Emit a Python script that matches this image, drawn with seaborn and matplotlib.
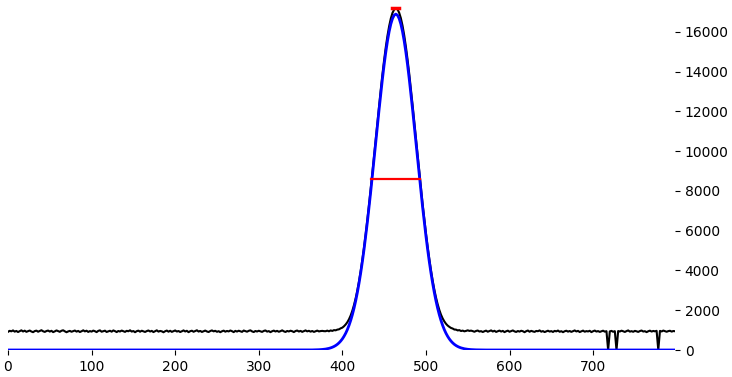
import numpy as np
import matplotlib
matplotlib.use("Agg")
import matplotlib.pyplot as plt
import seaborn as sns

# sample grid (step 2)
x_grid = np.arange(0, 800, 2)

# measured signal: left baseline (x=0..378)
signal_left = [
    915, 965, 940, 985, 925, 958, 905, 950, 990, 932,
    972, 915, 948, 980, 930, 898, 952, 975, 920, 960,
    995, 942, 910, 955, 978, 928, 965, 900, 938, 985,
    950, 915, 968, 992, 940, 895, 935, 962, 918, 948,
    980, 926, 960, 905, 943, 990, 937, 970, 910, 952,
    925, 976, 946, 900, 962, 988, 920, 945, 972, 908,
    940, 968, 922, 984, 950, 902, 958, 930, 978, 944,
    912, 965, 942, 992, 928, 955, 895, 948, 975, 920,
    970, 938, 908, 952, 982, 930, 962, 902, 946, 990,
    925, 958, 940, 893, 944, 978, 921, 967, 913, 950,
    983, 929, 956, 905, 942, 986, 933, 966, 898, 946,
    970, 918, 952, 992, 928, 960, 909, 944, 978, 932,
    905, 955, 985, 938, 966, 916, 948, 896, 942, 975,
    923, 958, 934, 982, 947, 900, 962, 928, 970, 944,
    913, 979, 950, 921, 964, 990, 936, 904, 957, 930,
    968, 941, 911, 960, 984, 925, 952, 898, 944, 976,
    931, 964, 917, 948, 988, 940, 907, 958, 933, 970,
    945, 902, 955, 980, 929, 962, 913, 950, 986, 937,
    966, 923, 957, 910, 946, 976, 935, 952, 962, 948,
]
# peak region (x=380..548)
signal_peak = [
    945, 975, 940, 985, 960, 1000, 990, 1025, 1040, 1090,
    1125, 1195, 1285, 1400, 1550, 1740, 1980, 2270, 2610, 3010,
    3470, 3990, 4560, 5180, 5850, 6570, 7330, 8120, 8940, 9780,
    10630, 11480, 12310, 13110, 13880, 14590, 15240, 15810, 16290, 16680,
    16960, 17130, 17200, 17140, 16970, 16700, 16320, 15840, 15270, 14620,
    13910, 13140, 12340, 11510, 10660, 9810, 8970, 8150, 7360, 6610,
    5890, 5220, 4600, 4030, 3510, 3050, 2650, 2310, 2020, 1780,
    1590, 1440, 1320, 1230, 1165, 1110, 1080, 1030, 1025, 985,
    1000, 955, 975, 940, 960,
]
# right baseline (x=550..798), with dropouts at 718, 728, 778
signal_right = [
    990, 960, 975, 950, 918, 958, 980, 930, 948, 905,
    944, 975, 920, 955, 986, 932, 966, 910, 946, 978,
    928, 962, 900, 943, 974, 918, 950, 984, 936, 908,
    956, 925, 968, 944, 896, 948, 980, 918, 963, 934,
    912, 958, 945, 986, 922, 952, 902, 940, 972, 928,
    950, 908, 962, 938, 978, 918, 946, 897, 944, 970,
    924, 956, 912, 948, 984, 933, 962, 904, 942, 975,
    920, 950, 934, 966, 900, 945, 978, 928, 952, 910,
    944, 972, 922, 948, 0, 935, 962, 916, 950, 0,
    955, 930, 972, 943, 908, 952, 985, 924, 948, 916,
    962, 940, 910, 954, 980, 930, 946, 900, 943, 974,
    928, 958, 940, 965, 0, 962, 932, 978, 945, 918,
    950, 968, 926, 955, 944,
]
signal = np.array(signal_left + signal_peak + signal_right, dtype=float)

# Gaussian fit curve values (x=360..568), zero elsewhere
fit_core = [
    2, 3, 4, 6, 8, 11, 15, 20, 27, 36,
    47, 62, 82, 107, 138, 177, 225, 285, 359, 449,
    557, 688, 842, 1025, 1240, 1489, 1777, 2106, 2479, 2900,
    3369, 3888, 4458, 5076, 5742, 6452, 7202, 7985, 8796, 9623,
    10459, 11293, 12112, 12902, 13654, 14354, 14990, 15549, 16023, 16401,
    16676, 16844, 16900, 16844, 16676, 16401, 16023, 15549, 14990, 14354,
    13654, 12902, 12112, 11293, 10459, 9623, 8796, 7985, 7202, 6452,
    5742, 5076, 4458, 3888, 3369, 2900, 2479, 2106, 1777, 1489,
    1240, 1025, 842, 688, 557, 449, 359, 285, 225, 177,
    138, 107, 82, 62, 47, 36, 27, 20, 15, 11,
    8, 6, 4, 3, 2,
]
fit = np.array([0] * 180 + fit_core + [0] * 115, dtype=float)

# FWHM marker and peak marker
fwhm_x = [434, 493]
fwhm_y = [8600, 8600]
peak_x = [460, 468]
peak_y = [17200, 17200]

xticks = [0, 100, 200, 300, 400, 500, 600, 700]
yticks = [0, 2000, 4000, 6000, 8000, 10000, 12000, 14000, 16000]

plt.rcParams['font.family'] = ['DejaVu Sans']
plt.rcParams['font.size'] = 10

fig = plt.figure(figsize=(7.32, 3.77), dpi=100)
ax = fig.add_axes([8 / 732, 27 / 377, 667 / 732, 350 / 377])

sns.lineplot(x=x_grid, y=signal, ax=ax, color='black', linewidth=1.5,
             estimator=None, sort=False, zorder=2)
sns.lineplot(x=x_grid, y=fit, ax=ax, color='blue', linewidth=2,
             estimator=None, sort=False, zorder=3)
sns.lineplot(x=fwhm_x, y=fwhm_y, ax=ax, color='red', linewidth=1.6,
             estimator=None, sort=False, zorder=4)
sns.lineplot(x=peak_x, y=peak_y, ax=ax, color='red', linewidth=2.5,
             estimator=None, sort=False, zorder=4)

ax.set_xlim(0, 798)
ax.set_ylim(0, 17610)
ax.set_xticks(xticks)
ax.set_yticks(yticks)
ax.yaxis.tick_right()
ax.set_xlabel('')
ax.set_ylabel('')
for s in ax.spines.values():
    s.set_visible(False)
ax.set_facecolor('white')
fig.patch.set_facecolor('white')

fig.savefig('out.png', dpi=100)
